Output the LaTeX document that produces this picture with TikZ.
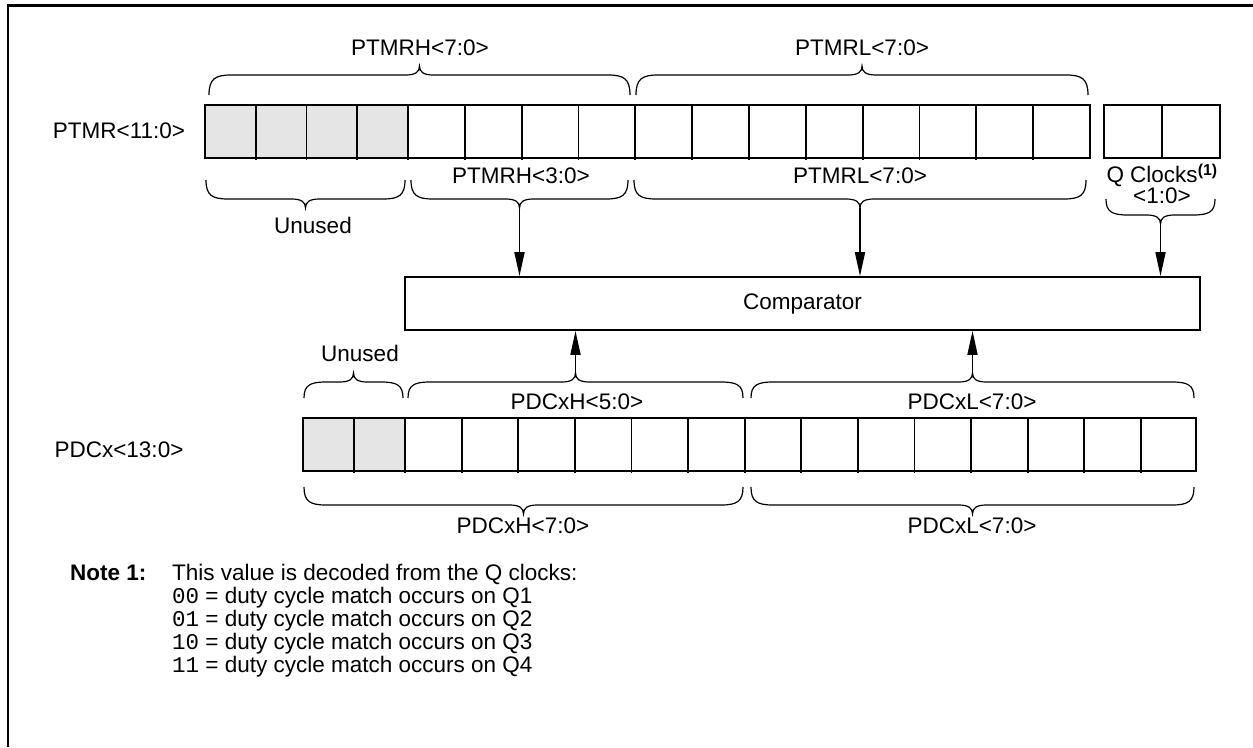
\documentclass[tikz,border=0pt]{standalone}
\usepackage{fontspec}
\setmainfont{Liberation Sans}
\setmonofont{Liberation Mono}
\usetikzlibrary{arrows.meta}
\tikzset{
  frameline/.style={line width=2.6pt},
  cellline/.style={line width=1.8pt},
  greyfill/.style={fill=black!10},
  regbox/.style={draw, line width=1.8pt, inner sep=0pt},
  brc/.style={line width=1.2pt},
  arr/.style={line width=1.8pt, -{Triangle[length=24pt,width=10pt]}},
  lbl/.style={inner sep=0pt},
}
% #1 x1, #2 x2, #3 y of ends, #4 direction (-1 tip up, 1 tip down), #5 tip name, #6 rise
\newcommand\regbrace[6]{%
  \draw[brc] ({#1},{#3}) .. controls ({#1},{#3+(#4)*(#6)*0.8}) and ({#1+6},{#3+(#4)*(#6)}) .. ({#1+22},{#3+(#4)*(#6)})
    -- ({(#1+#2)/2-14},{#3+(#4)*(#6)}) .. controls ({(#1+#2)/2-4},{#3+(#4)*(#6)}) and ({(#1+#2)/2},{#3+(#4)*((#6)+3)}) .. ({(#1+#2)/2},{#3+(#4)*((#6)+9)}) coordinate (#5)
    .. controls ({(#1+#2)/2},{#3+(#4)*((#6)+3)}) and ({(#1+#2)/2+4},{#3+(#4)*(#6)}) .. ({(#1+#2)/2+14},{#3+(#4)*(#6)})
    -- ({#2-22},{#3+(#4)*(#6)}) .. controls ({#2-6},{#3+(#4)*(#6)}) and ({#2},{#3+(#4)*(#6)*0.8}) .. ({#2},{#3});}
\begin{document}
\begin{tikzpicture}[x=1pt,y=-1pt,font=\fontsize{22.5}{27}\selectfont]
\useasboundingbox (0,0) rectangle (1253,747);
\draw[frameline] (8,747) -- (8,5.5) -- (1253,5.5);

% PTMR register
\fill[greyfill] (205,105) rectangle (408,158);
\foreach \i in {1,2,3} \draw[cellline] ({205+\i*50.75},105) -- ({205+\i*50.75},160);
\foreach \i in {0,...,11} \draw[cellline] ({408+\i*56.833},105) -- ({408+\i*56.833},160);
\node[regbox, minimum width=885pt, minimum height=53pt] (ptmr) at (647.5,131.5) {};
\node[lbl] (ptmrlbl) at (119,131) {PTMR<11:0>};

% Q clocks
\node[regbox, minimum width=116pt, minimum height=53pt] (qclk) at (1162,131.5) {};
\draw[cellline] (qclk.north) -- (qclk.south);

% top braces
\regbrace{209}{630}{95}{-1}{tH}{20}
\regbrace{636}{1088}{95}{-1}{tL}{20}
\node[lbl] (ptmrh7) at (420,48) {PTMRH<7:0>};
\node[lbl] (ptmrl7) at (862,48) {PTMRL<7:0>};

% lower braces of PTMR
\regbrace{206}{405}{180}{1}{bU}{19}
\regbrace{411}{628}{180}{1}{bH}{19}
\regbrace{634}{1086}{180}{1}{bL}{19}
\regbrace{1106}{1215}{199}{1}{bQ}{16}
\node[lbl] (unused1) at (313,225) {Unused};
\node[lbl] (ptmrh3) at (521,176) {PTMRH<3:0>};
\node[lbl] (ptmrl7b) at (860,176) {PTMRL<7:0>};
\node[lbl, align=center, font=\fontsize{22.5}{19}\selectfont] (qclocks) at (1162,184) {Q Clocks\textsuperscript{\bfseries(1)}\\<1:0>};

% comparator
\node[regbox, minimum width=795pt, minimum height=53pt] (comp) at (802.5,303.5) {Comparator};
\draw[arr] (bH) -- (bH |- comp.north);
\draw[arr] (bL) -- (bL |- comp.north);
\draw[arr] (bQ) -- (bQ |- comp.north);

% PDCx register
\fill[greyfill] (303,418) rectangle (405,471);
\draw[cellline] (354,418) -- (354,473);
\foreach \i in {0,...,13} \draw[cellline] ({405+\i*56.6},418) -- ({405+\i*56.6},473);
\node[regbox, minimum width=893pt, minimum height=53pt] (pdcx) at (749.5,444.5) {};
\node[lbl] (pdcxlbl) at (119,450) {PDCx<13:0>};

% upper braces of PDCx
\regbrace{304}{403}{398}{-1}{uU}{16}
\regbrace{408}{743}{398}{-1}{uH}{16}
\regbrace{751}{1194}{398}{-1}{uL}{16}
\node[lbl] (unused2) at (360,353) {Unused};
\node[lbl] (pdcxh5) at (577,402) {PDCxH<5:0>};
\node[lbl] (pdcxl7) at (972,402) {PDCxL<7:0>};
\draw[arr] (uH) -- (uH |- comp.south);
\draw[arr] (uL) -- (uL |- comp.south);

% lower braces of PDCx
\regbrace{304}{743}{487}{1}{dH}{18}
\regbrace{751}{1194}{487}{1}{dL}{18}
\node[lbl] (pdcxh7) at (523,526) {PDCxH<7:0>};
\node[lbl] (pdcxl7b) at (972,526) {PDCxL<7:0>};

% note
\node[lbl, anchor=base west] (note) at (70,580) {\bfseries Note 1:};
\node[lbl, anchor=base west] (n0) at (172,580) {This value is decoded from the Q clocks:};
\node[lbl, anchor=base west] (n1) at (172,603) {\texttt{00} = duty cycle match occurs on Q1};
\node[lbl, anchor=base west] (n2) at (172,626) {\texttt{01} = duty cycle match occurs on Q2};
\node[lbl, anchor=base west] (n3) at (172,649) {\texttt{10} = duty cycle match occurs on Q3};
\node[lbl, anchor=base west] (n4) at (172,672) {\texttt{11} = duty cycle match occurs on Q4};
\end{tikzpicture}
\end{document}
